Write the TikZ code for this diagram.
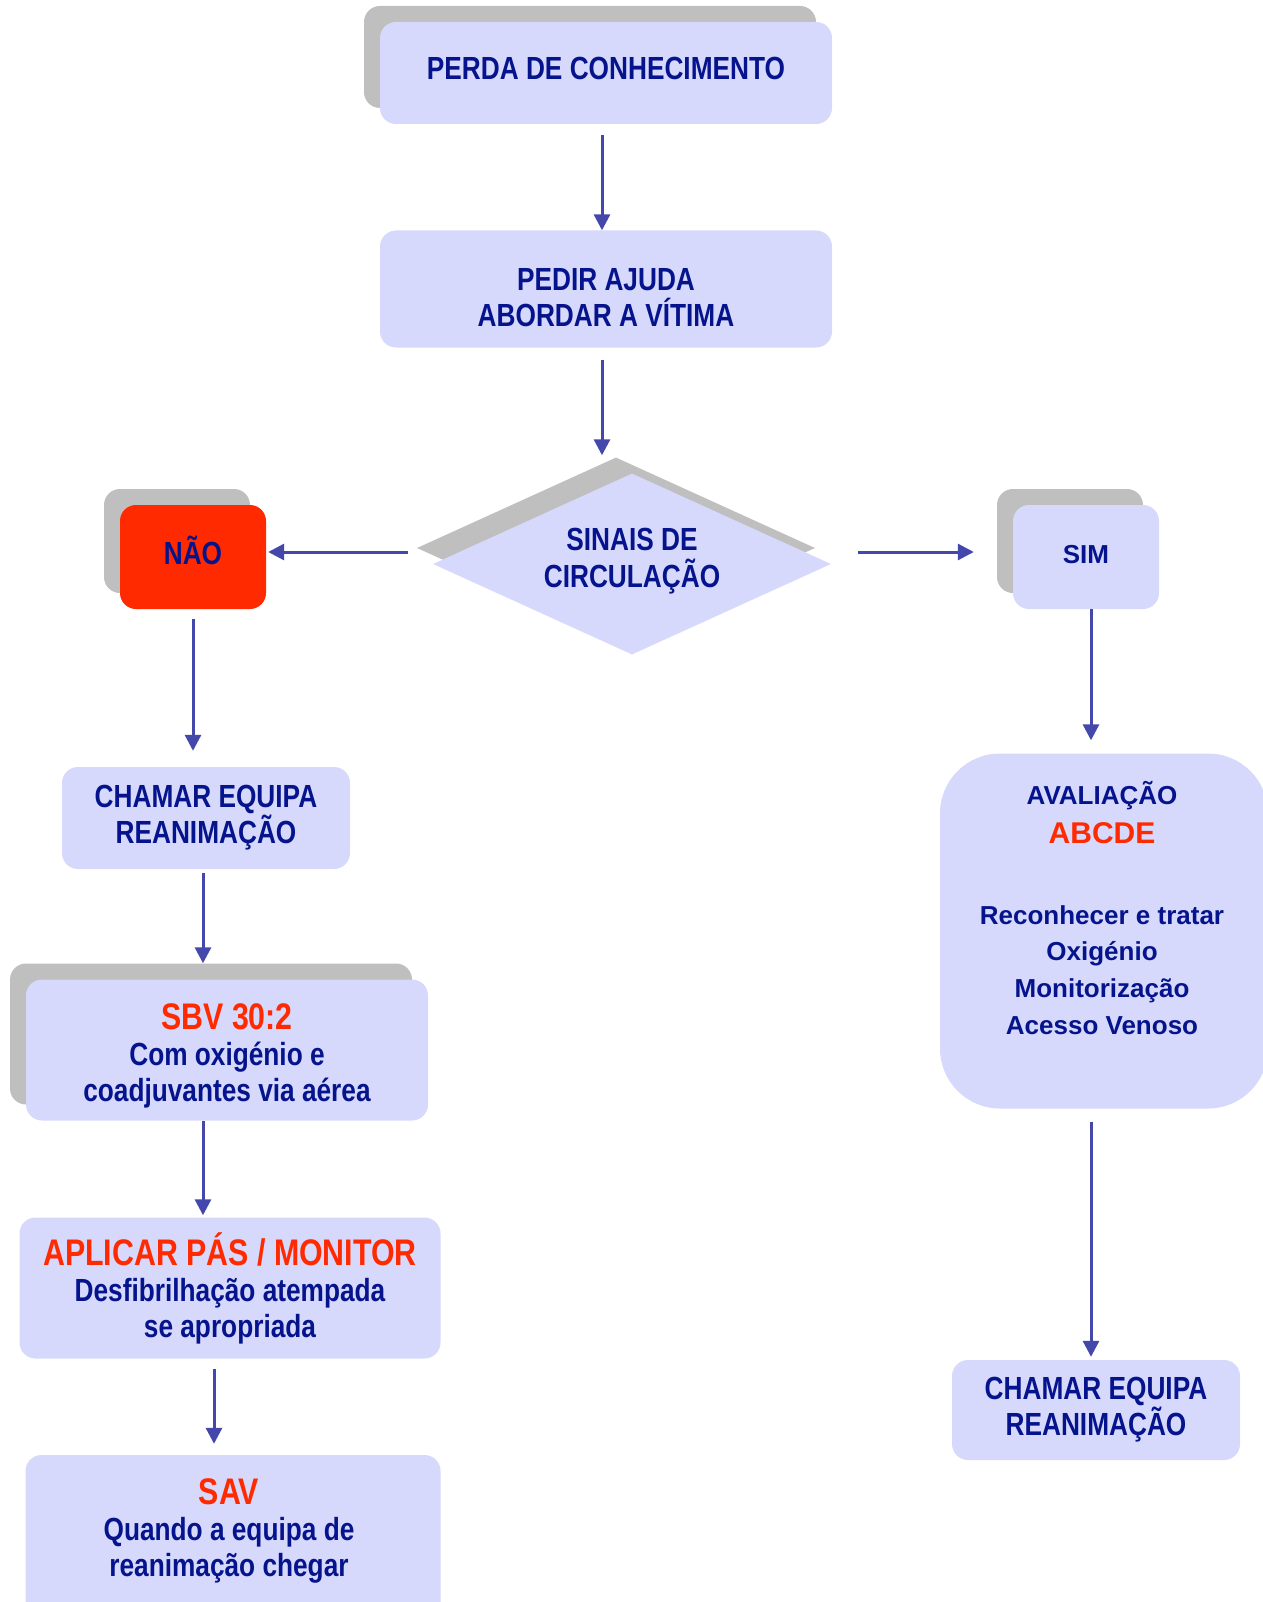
\documentclass[tikz,border=0pt]{standalone}
\usepackage{fontspec}
\setmainfont{Liberation Sans}
\newfontfamily\narrowfont{Liberation Sans}[FakeStretch=0.82]
\usetikzlibrary{shapes.geometric,arrows.meta,shadows,positioning}

\begin{document}
\begin{tikzpicture}[x=1pt, y=-1pt,
    box/.style={rounded corners=16pt, fill=boxfill, text=textblue, align=center, inner sep=0pt,
        font=\narrowfont\bfseries\fontsize{32}{36}\selectfont},
    boxtext/.style={text=textblue, align=center, inner sep=0pt,
        font=\narrowfont\bfseries\fontsize{32}{37}\selectfont},
    wide/.style={font=\bfseries\fontsize{26}{30}\selectfont},
    shade/.style={drop shadow={shadow xshift=-16pt, shadow yshift=16pt, fill=shadowgray, opacity=1}},
    decision/.style={diamond, aspect=2.2, fill=boxfill, inner sep=0pt, minimum width=398pt, minimum height=181pt},
    arrow/.style={-{Triangle[width=16pt,length=16pt]}, line width=3pt, draw=arrowblue}]

    % Colors
    \definecolor{boxfill}{RGB}{214,216,252}
    \definecolor{shadowgray}{RGB}{191,191,191}
    \definecolor{textblue}{RGB}{5,20,140}
    \definecolor{alertred}{RGB}{255,42,0}
    \definecolor{arrowblue}{RGB}{68,72,170}

    \useasboundingbox (0,0) rectangle (1262,1602);

    % Top
    \node[box, shade, text depth=10pt, minimum width=452pt, minimum height=102pt] (perda) at (606,73) {PERDA DE CONHECIMENTO};
    \node[box, minimum width=452pt, minimum height=117pt] (pedir) at (606,289) {\rule{0pt}{39pt}PEDIR AJUDA\\ABORDAR A VÍTIMA};
    \node[decision, shade] (circ) at (632,564) {};
    \node[boxtext] (circtxt) at (632,561) {SINAIS DE\\CIRCULAÇÃO};

    % Left branch
    \node[box, shade, fill=alertred, text depth=14pt, minimum width=146pt, minimum height=104pt] (nao) at (193,557) {NÃO};
    \node[box, minimum width=288pt, minimum height=102pt] (chamarA) at (206,818) {CHAMAR EQUIPA\\REANIMAÇÃO};
    \node[box, shade, minimum width=402pt, minimum height=141pt] (sbv) at (227,1050)
        {\textcolor{alertred}{\fontsize{37}{40}\selectfont\rule{0pt}{37pt}SBV 30:2}\\Com oxigénio e\\coadjuvantes via aérea};
    \node[box, minimum width=421pt, minimum height=141pt] (aplicar) at (230,1288)
        {\textcolor{alertred}{\fontsize{37}{40}\selectfont APLICAR PÁS / MONITOR}\\Desfibrilhação atempada\\se apropriada};
    \node[box, minimum width=415pt, minimum height=170pt] (sav) at (233,1540) {};
    \node[boxtext, font=\narrowfont\bfseries\fontsize{32}{36}\selectfont] (savtxt) at (229,1531)
        {\textcolor{alertred}{\fontsize{37}{40}\selectfont SAV}\\Quando a equipa de\\reanimação chegar};

    % Right branch
    \node[box, shade, wide, text depth=6pt, minimum width=146pt, minimum height=104pt] (sim) at (1086,557) {SIM};
    \node[box, rounded corners=60pt, minimum width=328pt, minimum height=355pt] (aval) at (1104,931) {};
    \node[boxtext, wide, font=\bfseries\fontsize{26}{36.7}\selectfont] (avaltxt) at (1102,908)
        {AVALIAÇÃO\\[2pt]\textcolor{alertred}{\fontsize{30}{36}\selectfont ABCDE}\\[44pt]Reconhecer e tratar\\Oxigénio\\Monitorização\\Acesso Venoso};
    \node[box, minimum width=288pt, minimum height=100pt] (chamarB) at (1096,1410) {CHAMAR EQUIPA\\REANIMAÇÃO};

    % Arrows
    \draw[arrow, shorten <=11pt] ([xshift=-4pt]perda.south) -- ([xshift=-4pt]perda.south |- pedir.north);
    \draw[arrow, shorten <=12pt, shorten >=18pt] ([xshift=-4pt]pedir.south) -- ([xshift=-4pt]pedir.south |- circ.north);
    \draw[arrow, shorten <=25pt, shorten >=2pt] ([yshift=12pt]circ.west) -- ([yshift=12pt]circ.west -| nao.east);
    \draw[arrow, shorten <=27pt, shorten >=39pt] ([yshift=12pt]circ.east) -- ([yshift=12pt]circ.east -| sim.west);
    \draw[arrow, shorten <=10pt, shorten >=16pt] (nao.south) -- (nao.south |- chamarA.north);
    \draw[arrow, shorten <=4pt, shorten >=16pt] ([xshift=-3pt]chamarA.south) -- ([xshift=-3pt]chamarA.south |- sbv.north);
    \draw[arrow, shorten >=2pt] ([xshift=-3pt]chamarA.south |- sbv.south) -- ([xshift=-3pt]chamarA.south |- aplicar.north);
    \draw[arrow, shorten <=10pt, shorten >=11pt] ([xshift=-16pt]aplicar.south) -- ([xshift=-16pt]aplicar.south |- sav.north);
    \draw[arrow, shorten >=13pt] ([xshift=5pt]sim.south) -- ([xshift=5pt]sim.south |- aval.north);
    \draw[arrow, shorten <=13pt, shorten >=3pt] ([xshift=5pt]sim.south |- aval.south) -- ([xshift=5pt]sim.south |- chamarB.north);

\end{tikzpicture}
\end{document}
